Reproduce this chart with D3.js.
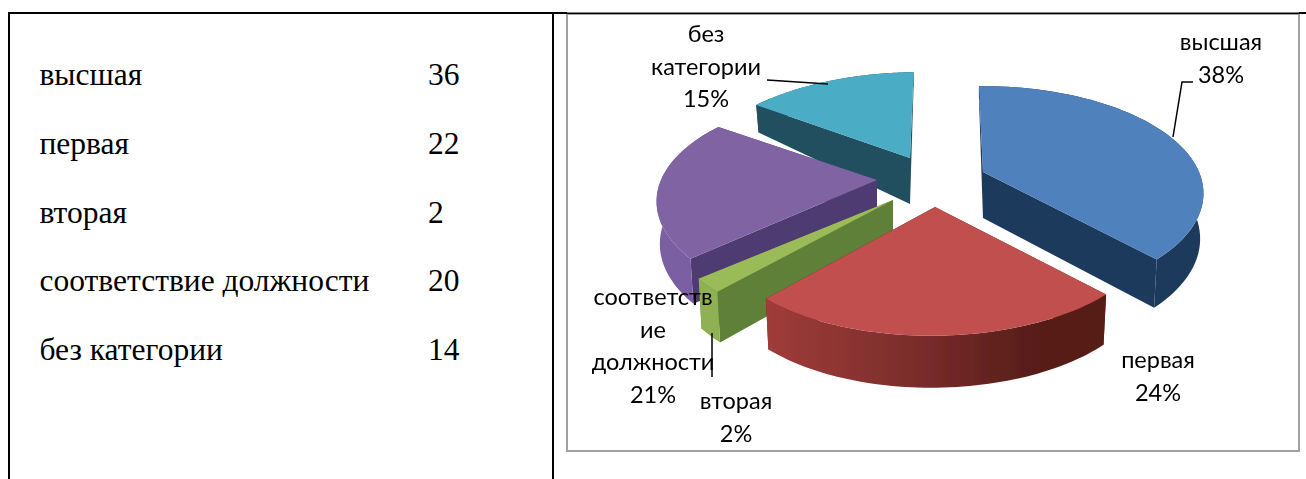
<!DOCTYPE html>
<html lang="ru">
<head>
<meta charset="UTF-8">
<title>Категории</title>
<script src="https://d3js.org/d3.v7.min.js"></script>
<style>
  body { margin: 0; background: #fff; overflow: hidden; }
  .table-text { font-family: "Liberation Serif", serif; font-size: 31.5px; fill: #000; }
  .pie-label { font-family: Lato, sans-serif; font-size: 23.5px; fill: #000; text-anchor: middle; }
</style>
</head>
<body>
<svg id="chart" width="1306" height="479"></svg>
<script>
const categories = ["высшая", "первая", "вторая", "соответствие должности", "без категории"];
const counts = [36, 22, 2, 20, 14];
const percents = [38, 24, 2, 21, 15];
const topColors = ["#4f81bd", "#c0504d", "#9bbb59", "#8064a2", "#4bacc6"];
const cutColors = ["#1f3a5c", "#5a1e18", "#5f8038", "#4e3a72", "#21505f"];
const wallColors = ["#1f3a5c", "#7a2c2a", "#8fb052", "#7a5ea3", "#21505f"];

const svg = d3.select("#chart");

// chart box
svg.append("rect").attr("x", 567).attr("y", 14).attr("width", 732).attr("height", 437)
  .attr("fill", "#fff").attr("stroke", "#a0a0a0").attr("stroke-width", 2);

// table frame
const frame = svg.append("g").attr("stroke", "#000").attr("stroke-width", 2);
frame.append("line").attr("x1", 8).attr("x2", 567).attr("y1", 13).attr("y2", 13);
frame.append("line").attr("x1", 567).attr("x2", 1299).attr("y1", 13.3).attr("y2", 13.3).attr("stroke-width", 1.5);
frame.append("line").attr("x1", 1299).attr("x2", 1306).attr("y1", 13).attr("y2", 13);
frame.append("line").attr("x1", 9).attr("x2", 9).attr("y1", 13).attr("y2", 479);
frame.append("line").attr("x1", 553).attr("x2", 553).attr("y1", 13).attr("y2", 479);

// table rows
const rowY = d3.scalePoint().domain(categories).range([85, 360]);
const rows = svg.append("g").selectAll("g").data(categories).enter().append("g");
rows.append("text").attr("class", "table-text").attr("x", 39.5).attr("y", d => rowY(d)).text(d => d);
rows.append("text").attr("class", "table-text").attr("x", 428).attr("y", d => rowY(d))
  .text((d, i) => counts[i]);

// pie, drawn as a fake perspective 3d
const pie = d3.pie().sort(null).startAngle(-1.3 * Math.PI / 180)
  .endAngle((360 - 1.3) * Math.PI / 180);
const slices = pie(counts);

const R = 216, Ry = 103, persp = 0.2;
const cx = 935, cy = 180;
// how far each slice is pulled out of the centre
const explode = [[48, -8], [0, 27], [-42, 20], [-58, 0], [-25, -22]];
// small per slice tweaks, excel's camera doesn't quite match the simple projection
const shear = [0, -0.03, -0.1, 0, -0.09];
const depthScale = [0.96, 1, 1, 0.9, 1];

function project(a, i) {
  const u = Math.sin(a), v = -Math.cos(a), s = 1 / (1 - persp * v);
  const y = Ry * v * s;
  return [R * u * s + shear[i] * y, y];
}
function depth(a, i) {
  const v = -Math.cos(a);
  return (v >= 0 ? 46 + 6 * v : 46 + 32 * v) * depthScale[i];
}
function lower(p, d) {
  return [p[0] * 0.985, p[1] + d];
}

const defs = svg.append("defs");
const blur = defs.append("filter").attr("id", "soft");
blur.append("feGaussianBlur").attr("stdDeviation", 0.6);

const redGrad = defs.append("linearGradient").attr("id", "redWall");
redGrad.append("stop").attr("offset", "0%").attr("stop-color", "#a03c39");
redGrad.append("stop").attr("offset", "45%").attr("stop-color", "#7a2c2b");
redGrad.append("stop").attr("offset", "75%").attr("stop-color", "#5a1f1a");
redGrad.append("stop").attr("offset", "100%").attr("stop-color", "#561c16");

const line = d3.line();
const order = [4, 3, 0, 2, 1];
const pieG = svg.append("g").attr("filter", "url(#soft)");

order.forEach(i => {
  const s = slices[i];
  const g = pieG.append("g")
    .attr("transform", `translate(${cx + explode[i][0]},${cy + explode[i][1]})`);
  const angles = d3.range(0, 61).map(k => s.startAngle + (s.endAngle - s.startAngle) * k / 60);
  const arcTop = angles.map(a => project(a, i));
  const arcLow = angles.map((a, k) => lower(arcTop[k], depth(a, i)));
  const wallFill = i === 1 ? "url(#redWall)" : wallColors[i];

  // cut faces, the end one sits behind
  [angles.length - 1, 0].forEach(k => {
    g.append("path").attr("d", line([[0, 0], arcTop[k], arcLow[k], [0, 46]]) + "Z")
      .attr("fill", cutColors[i]);
  });
  // outer wall
  g.append("path").attr("d", line(arcTop.concat(arcLow.slice().reverse())) + "Z").attr("fill", wallFill);
  // top
  g.append("path").attr("d", line([[0, 0]].concat(arcTop)) + "Z").attr("fill", topColors[i]);
});

// leader lines
const leaders = svg.append("g").attr("fill", "none").attr("stroke", "#000").attr("stroke-width", 1.5);
leaders.append("path").attr("d", line([[767, 80], [828, 84]]));
leaders.append("path").attr("d", line([[1173, 137], [1182, 82], [1193, 82]]));
leaders.append("path").attr("d", line([[712, 333], [712, 377]]));

// data labels, wrapped as in the picture
const labelLines = [
  ["высшая", percents[0] + "%"],
  ["первая", percents[1] + "%"],
  ["вторая", percents[2] + "%"],
  ["соответств", "ие", "должности", percents[3] + "%"],
  ["без", "категории", percents[4] + "%"]
];
const labelPos = [[1221, 50], [1158, 368], [736, 409], [653, 305], [706, 42]];
labelLines.forEach((ls, i) => {
  ls.forEach((t, k) => {
    svg.append("text").attr("class", "pie-label")
      .attr("x", labelPos[i][0]).attr("y", labelPos[i][1] + k * 32.5).text(t);
  });
});
</script>
</body>
</html>
